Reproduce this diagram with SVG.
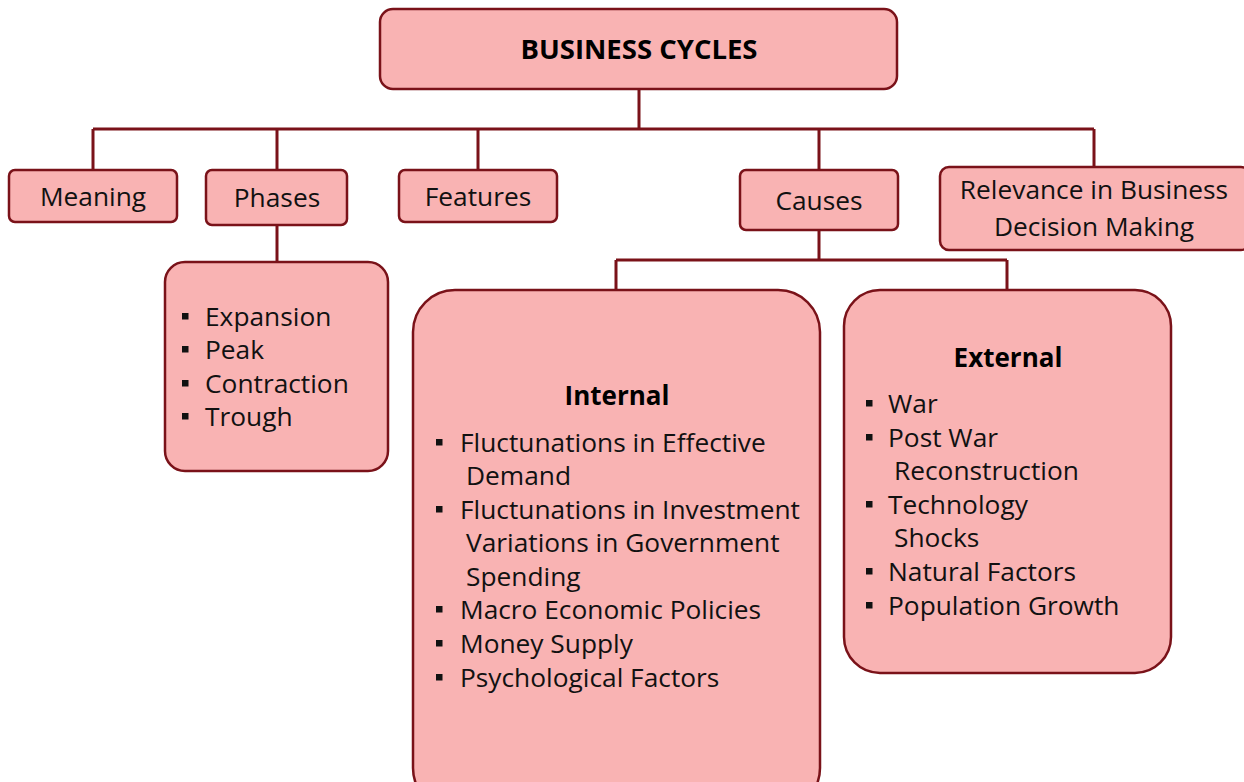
<svg xmlns="http://www.w3.org/2000/svg" width="1244" height="782" viewBox="0 0 1244 782">
<style>
.box{fill:#F9B3B3;stroke:#7A1219;stroke-width:2.5}
.ln{fill:none;stroke:#7A1219;stroke-width:3}
.t{font-family:"Open Sans","Liberation Sans",sans-serif;font-size:26.3px;fill:#111}
.b{font-family:"Open Sans","Liberation Sans",sans-serif;font-size:26px;font-weight:bold;fill:#000}
.h{font-size:27.5px}
.c{text-anchor:middle}
.bu{fill:#111}
</style>
<rect width="1244" height="782" fill="#fff"/>
<g id="connectors">
<path class="ln" d="M639 90V129M93 129H1094M93 129V170M277 129V170M478 129V170M819 129V170M1094 129V167"/>
<path class="ln" d="M277 225V262"/>
<path class="ln" d="M819 230V260M616 260H1007M616 260V290M1007 260V290"/>
</g>
<g id="root">
<rect class="box" x="380" y="9" width="517" height="80" rx="13"/>
<text class="b h c" x="639" y="59">BUSINESS CYCLES</text>
</g>
<g id="meaning">
<rect class="box" x="9" y="170" width="168" height="52" rx="6"/>
<text class="t c" x="93" y="206">Meaning</text>
</g>
<g id="phases">
<rect class="box" x="206" y="170" width="141" height="55" rx="6"/>
<text class="t c" x="277" y="207">Phases</text>
</g>
<g id="features">
<rect class="box" x="399" y="170" width="158" height="52" rx="6"/>
<text class="t c" x="478" y="206">Features</text>
</g>
<g id="causes">
<rect class="box" x="740" y="170" width="158" height="60" rx="6"/>
<text class="t c" x="819" y="210">Causes</text>
</g>
<g id="relevance">
<rect class="box" x="940" y="167" width="310" height="83" rx="9"/>
<text class="t c" x="1094" y="199">Relevance in Business</text>
<text class="t c" x="1094" y="236">Decision Making</text>
</g>
<g id="phases-list">
<rect class="box" x="165" y="262" width="223" height="209" rx="20"/>
<rect class="bu" x="182" y="313" width="6.5" height="6.5"/>
<rect class="bu" x="182" y="346" width="6.5" height="6.5"/>
<rect class="bu" x="182" y="380" width="6.5" height="6.5"/>
<rect class="bu" x="182" y="413" width="6.5" height="6.5"/>
<text class="t" x="205" y="326">Expansion</text>
<text class="t" x="205" y="359">Peak</text>
<text class="t" x="205" y="393">Contraction</text>
<text class="t" x="205" y="426">Trough</text>
</g>
<g id="internal">
<rect class="box" x="413" y="290" width="407" height="520" rx="42"/>
<text class="b c" x="617" y="405">Internal</text>
<rect class="bu" x="436" y="439" width="6.5" height="6.5"/>
<rect class="bu" x="436" y="506" width="6.5" height="6.5"/>
<rect class="bu" x="436" y="606" width="6.5" height="6.5"/>
<rect class="bu" x="436" y="640" width="6.5" height="6.5"/>
<rect class="bu" x="436" y="674" width="6.5" height="6.5"/>
<text class="t" x="460" y="452">Fluctunations in Effective</text>
<text class="t" x="466" y="485">Demand</text>
<text class="t" x="460" y="519">Fluctunations in Investment</text>
<text class="t" x="466" y="552">Variations in Government</text>
<text class="t" x="466" y="586">Spending</text>
<text class="t" x="460" y="619">Macro Economic Policies</text>
<text class="t" x="460" y="653">Money Supply</text>
<text class="t" x="460" y="687">Psychological Factors</text>
</g>
<g id="external">
<rect class="box" x="844" y="290" width="327" height="383" rx="36"/>
<text class="b c" x="1008" y="367">External</text>
<rect class="bu" x="866" y="400" width="6.5" height="6.5"/>
<rect class="bu" x="866" y="434" width="6.5" height="6.5"/>
<rect class="bu" x="866" y="501" width="6.5" height="6.5"/>
<rect class="bu" x="866" y="568" width="6.5" height="6.5"/>
<rect class="bu" x="866" y="602" width="6.5" height="6.5"/>
<text class="t" x="888" y="413">War</text>
<text class="t" x="888" y="447">Post War</text>
<text class="t" x="894" y="480">Reconstruction</text>
<text class="t" x="888" y="514">Technology</text>
<text class="t" x="894" y="547">Shocks</text>
<text class="t" x="888" y="581">Natural Factors</text>
<text class="t" x="888" y="615">Population Growth</text>
</g>
</svg>
